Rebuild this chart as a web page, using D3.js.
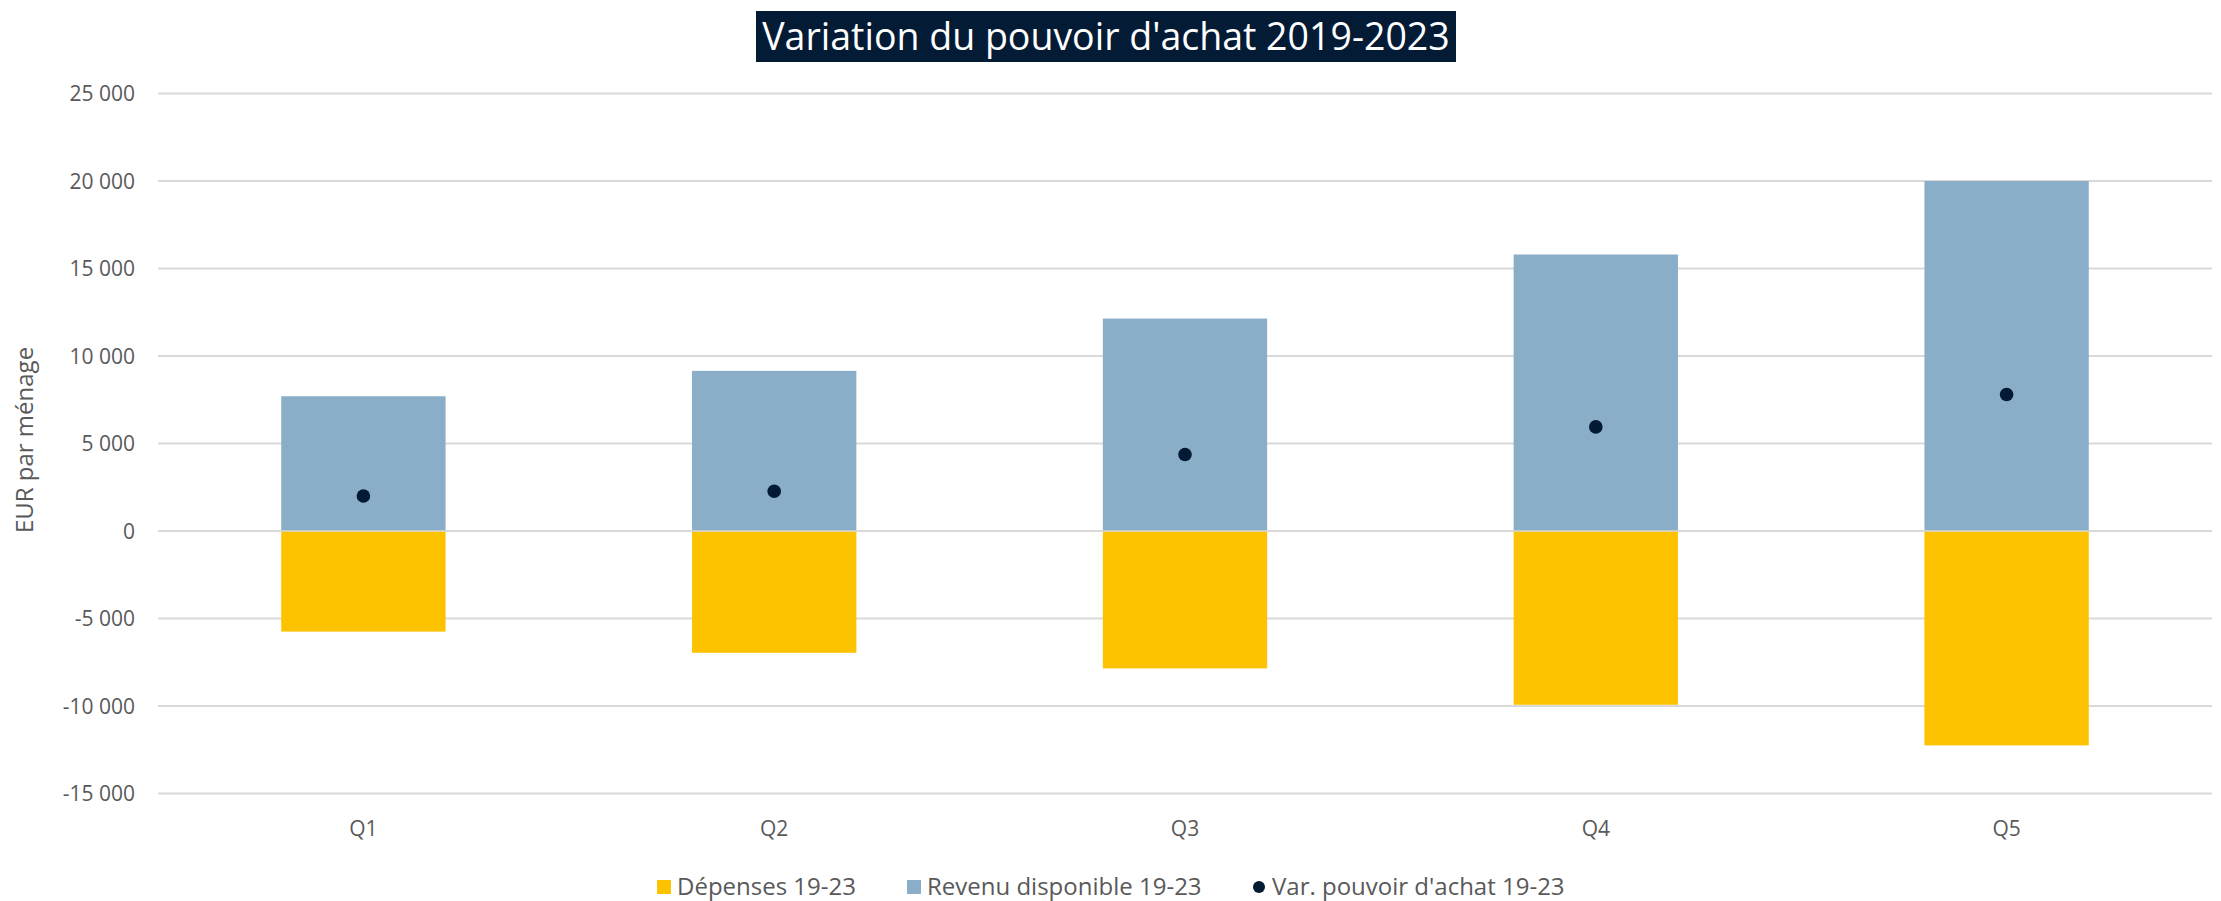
<!DOCTYPE html>
<html><head><meta charset="utf-8">
<script src="https://cdn.jsdelivr.net/npm/d3@7"></script>
<style>
html,body{margin:0;padding:0;background:#fff;}
svg{display:block;font-family:"Open Sans",sans-serif;}
</style></head>
<body><svg id="c" width="2221" height="901"></svg>
<script>
const categories = ["Q1","Q2","Q3","Q4","Q5"];
const depenses = [-5750, -6960, -7850, -9930, -12250];
const revenu = [7700, 9150, 12140, 15800, 20000];
const pouvoir = [2000, 2270, 4370, 5950, 7800];
const yTicks = [-15000,-10000,-5000,0,5000,10000,15000,20000,25000];
const seriesNames = ["Dépenses 19-23","Revenu disponible 19-23","Var. pouvoir d'achat 19-23"];
const title = "Variation du pouvoir d'achat 2019-2023";
const yTitle = "EUR par ménage";

const colors = {dep:"#fdc300", rev:"#8aadc8", dot:"#021a33", title:"#031b35", grid:"#d9d9d9", text:"#595959"};

const svg = d3.select("#c");
const pLeft = 158, pRight = 2212, pTop = 93.5, pBottom = 793.5;

const x = d3.scaleBand().domain(categories).range([pLeft,pRight]).paddingInner(0.6).paddingOuter(0.3);
const y = d3.scaleLinear().domain([-15000,25000]).range([pBottom,pTop]);

// gridlines
svg.append("g").selectAll("line").data(yTicks).join("line")
  .attr("x1",pLeft).attr("x2",pRight)
  .attr("y1",d=>y(d)).attr("y2",d=>y(d))
  .attr("stroke",colors.grid).attr("stroke-width",2);

// y axis labels
const fmt = v => d3.format(",")(v).replace(/,/g," ").replace("−","-");
const yAxis = d3.axisLeft(y).tickValues(yTicks).tickSize(0).tickPadding(0).tickFormat(fmt);
const ga = svg.append("g").attr("transform",`translate(135,0)`).call(yAxis);
ga.select(".domain").remove();
ga.selectAll("text").attr("font-family","Open Sans").attr("font-size",21).attr("fill",colors.text).attr("dy","0.35em");

// bars
const bw = x.bandwidth();
svg.append("g").selectAll("rect").data(categories).join("rect")
  .attr("x",d=>x(d)).attr("width",bw)
  .attr("y",(d,i)=>y(revenu[i])).attr("height",(d,i)=>y(0)-y(revenu[i]))
  .attr("fill",colors.rev);
svg.append("g").selectAll("rect").data(categories).join("rect")
  .attr("x",d=>x(d)).attr("width",bw)
  .attr("y",y(0)).attr("height",(d,i)=>y(depenses[i])-y(0))
  .attr("fill",colors.dep);
// zero line on top
svg.append("line").attr("x1",pLeft).attr("x2",pRight).attr("y1",y(0)).attr("y2",y(0))
  .attr("stroke",colors.grid).attr("stroke-width",1.5);

// dots
svg.append("g").selectAll("circle").data(categories).join("circle")
  .attr("cx",d=>x(d)+bw/2).attr("cy",(d,i)=>y(pouvoir[i])).attr("r",6.8)
  .attr("fill",colors.dot);

// x labels
const xAxis = d3.axisBottom(x).tickSize(0).tickPadding(0);
const gx = svg.append("g").attr("transform",`translate(0,829)`).call(xAxis);
gx.select(".domain").remove();
gx.selectAll("text").attr("font-family","Open Sans").attr("font-size",21).attr("fill",colors.text).attr("dy","0.35em");

// y title
svg.append("text").attr("transform","translate(25,440) rotate(-90)")
  .attr("text-anchor","middle").attr("dy","0.35em")
  .attr("font-size",24).attr("fill",colors.text).text(yTitle);

// title
svg.append("rect").attr("x",756).attr("y",11).attr("width",700).attr("height",51).attr("fill",colors.title);
svg.append("text").attr("x",1106).attr("y",37).attr("text-anchor","middle").attr("dy","0.35em")
  .attr("font-size",37.5).attr("fill","#fff").text(title);

// legend
const lg = svg.append("g");
const legendItems = [
  {name:seriesNames[0], color:colors.dep, type:"rect", x:657},
  {name:seriesNames[1], color:colors.rev, type:"rect", x:907},
  {name:seriesNames[2], color:colors.dot, type:"circle", x:1252}
];
legendItems.forEach(it=>{
  if(it.type==="rect") lg.append("rect").attr("x",it.x).attr("y",880).attr("width",14).attr("height",14).attr("fill",it.color);
  else lg.append("circle").attr("cx",it.x+7).attr("cy",887).attr("r",6).attr("fill",it.color);
  lg.append("text").attr("x",it.x+20).attr("y",887).attr("dy","0.35em").attr("font-size",24).attr("fill",colors.text).text(it.name);
});
</script>
</body></html>
